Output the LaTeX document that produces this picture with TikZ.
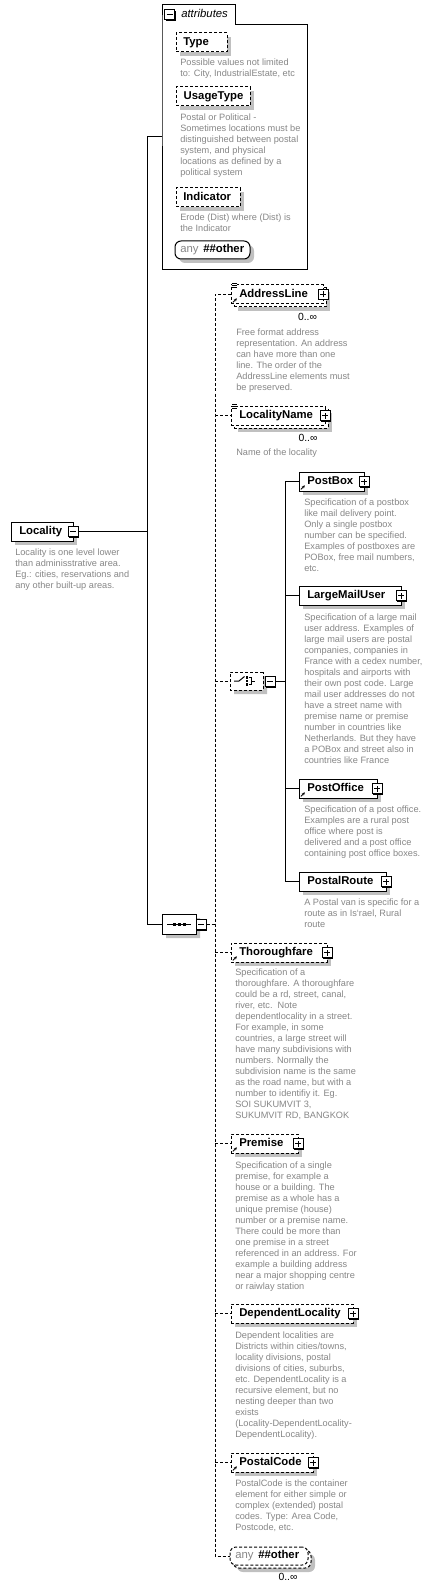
\documentclass[tikz,border=0pt]{standalone}
\usepackage{fontspec}
\newfontfamily\lib{Liberation Sans}
\usetikzlibrary{shadows,shapes.misc,arrows.meta}
\definecolor{shgray}{RGB}{192,192,192}
\definecolor{dgray}{RGB}{135,135,135}
\tikzset{
  dsh/.style={dash pattern=on 2.25pt off 1.5pt},
  elplain/.style={draw, fill=white, line width=0.75pt, minimum height=14.25pt, inner sep=0pt, outer sep=0pt},
  elbox/.style={elplain, general shadow={fill=shgray, shadow xshift=3pt, shadow yshift=-3pt}},
  eltext/.style={font=\lib\bfseries\fontsize{8.5}{10}\selectfont, inner sep=0pt, text height=6pt, text depth=1.6pt},
  graytext/.style={font=\lib\fontsize{8.5}{10}\selectfont, inner sep=0pt, text height=6pt, text depth=1.6pt, text=dgray},
  desctext/.style={font=\lib\fontsize{6.9}{8.25}\selectfont, text=dgray, align=left, inner sep=0pt, anchor=north west},
  occ/.style={font=\lib\fontsize{7.8}{9}\selectfont, inner sep=0pt},
  pbox/.style={draw, fill=white, line width=0.75pt, minimum size=7.5pt, inner sep=0pt,
    general shadow={fill=black, shadow xshift=0.75pt, shadow yshift=-0.75pt},
    path picture={\draw[line width=0.75pt] ([xshift=1.5pt]path picture bounding box.west) -- ([xshift=-1.5pt]path picture bounding box.east) ([yshift=1.5pt]path picture bounding box.south) -- ([yshift=-1.5pt]path picture bounding box.north);}},
  mbox/.style={draw, fill=white, line width=0.75pt, minimum size=7.5pt, inner sep=0pt,
    general shadow={fill=black, shadow xshift=0.75pt, shadow yshift=-0.75pt},
    path picture={\draw[line width=0.75pt] ([xshift=1.5pt]path picture bounding box.west) -- ([xshift=-1.5pt]path picture bounding box.east);}},
  compo/.style={chamfered rectangle, chamfered rectangle xsep=3.5pt, draw, fill=white, line width=0.75pt, inner sep=0pt,
    general shadow={fill=shgray, shadow xshift=3pt, shadow yshift=-3pt}},
  conn/.style={line width=0.75pt},
  dconn/.style={line width=0.75pt, dsh},
}
\newcommand\elemnode[6][elbox]{%
  \node[#1,minimum width=#5*0.75pt,anchor=north west] (#2) at (#3,#4) {};
  \node[eltext,anchor=west] (#2-t) at ([xshift=6pt]#2.west) {#6};
  \node[pbox] (#2-p) at (#2.east) {};
}
\newcommand\backnode[4]{%
  \node[elbox,dsh,minimum width=#4*0.75pt,anchor=north west] (#1-back) at (#2+3,#3+3) {};
}
\newcommand\descnode[4]{\node[desctext] (#1) at (#2,#3-4.3) {#4};}
\newcommand\refarrow[1]{\draw[line width=0.6pt,-{Stealth[length=2.2pt,width=2.2pt]}] ([shift={(1.4pt,1.2pt)}]#1.south west) -- ++(3pt,3pt);}
\newcommand\texticon[1]{%
  \fill[white] ([shift={(0.4pt,2.2pt)}]#1.north west) rectangle ([shift={(4.6pt,-2.6pt)}]#1.north west);
  \draw[line width=0.5pt] ([shift={(0.75pt,1.5pt)}]#1.north west) -- ++(3.5pt,0)
    ([shift={(0.75pt,0pt)}]#1.north west) -- ++(3.5pt,0)
    ([shift={(0.75pt,-1.5pt)}]#1.north west) -- ++(3.5pt,0);}
\begin{document}
\begin{tikzpicture}[x=0.75pt,y=-0.75pt]
\useasboundingbox (0,0) rectangle (434,1590);
\fill[white] (0,0) rectangle (434,1590);

% ---------- attributes frame ----------
\draw[line width=0.75pt] (162,25) -- (162,5) -- (235,5) -- (235,25) -- (307,25) -- (307,270) -- (162,270) -- cycle;
\node[mbox] (attrm) at (169.5,15) {};
\node[font=\lib\itshape\fontsize{8.5}{10}\selectfont, inner sep=0pt, anchor=west, text height=6pt, text depth=1.6pt] (attrt) at (181,15) {attributes};
\coordinate (attrin) at (162,137);

\node[elbox,dsh,minimum width=51*0.75pt,anchor=north west] (type) at (176,33) {};
\node[eltext,anchor=west] (type-t) at ([xshift=5.25pt]type.west) {Type};
\descnode{type-d}{180}{63}{Possible values not limited\\to: City, IndustrialEstate, etc}

\node[elbox,dsh,minimum width=74*0.75pt,anchor=north west] (usage) at (176,87) {};
\node[eltext,anchor=west] (usage-t) at ([xshift=5.6pt]usage.west) {UsageType};
\descnode{usage-d}{180}{118}{Postal or Political -\\Sometimes locations must be\\distinguished between postal\\system, and physical\\locations as defined by a\\political system}

\node[elbox,dsh,minimum width=64*0.75pt,anchor=north west] (indic) at (176,188) {};
\node[eltext,anchor=west] (indic-t) at ([xshift=5.25pt]indic.west) {Indicator};
\descnode{indic-d}{180}{218}{Erode (Dist) where (Dist) is\\the Indicator}

\node[elbox, rounded corners=4.5pt, minimum width=75*0.75pt, minimum height=13.5pt, anchor=north west] (attrany) at (175,241) {};
\node[graytext,anchor=west] (attrany-a) at ([xshift=3.75pt]attrany.west) {any};
\node[eltext,anchor=west] (attrany-b) at ([xshift=21pt]attrany.west) {\#\#other};

% ---------- Locality ----------
\elemnode{locality}{11}{522}{62}{Locality}
\node[mbox] (locm) at (locality.east) {};
\path (locality-p) node[mbox] {};
\descnode{loc-d}{15}{553}{Locality is one level lower\\than adminisstrative area.\\Eg.: cities, reservations and\\any other built-up areas.}

% ---------- sequence ----------
\node[compo, minimum width=25.5pt, minimum height=15pt] (seq) at (179,924) {};
\draw[line width=0.75pt] (167,924) -- (191,924);
\foreach \xx in {174,179,184} \fill (\xx-1.5,922.5) rectangle (\xx+1.5,925.5);
\node[mbox] (seqm) at (201,924.5) {};

% ---------- choice ----------
\node[compo, dsh, minimum width=24.75pt, minimum height=13.5pt] (choice) at (246.5,681) {};
\draw[line width=0.75pt] (234,681) -- (239,681) -- (244.5,676.5);
\foreach \yy in {677.5,681,684.5} \fill (245.5,\yy-1.1) rectangle (248,\yy+1.1);
\draw[line width=0.75pt] (248.5,677.5) -- (251,677.5) -- (251,684.5) -- (248.5,684.5) (251,681) -- (255,681);
\node[mbox] (choicem) at (270,681.5) {};

% ---------- children of sequence ----------
\backnode{addr}{231}{285}{92}
\elemnode[elplain,dsh]{addr}{231}{285}{92}{AddressLine}
\texticon{addr}
\refarrow{addr}
\node[occ] (addr-o) at (307.5,317) {0..∞};
\descnode{addr-d}{236}{333}{Free format address\\representation. An address\\can have more than one\\line. The order of the\\AddressLine elements must\\be preserved.}

\backnode{locname}{231}{406}{94}
\elemnode[elplain,dsh]{locname}{231}{406}{94}{LocalityName}
\texticon{locname}
\node[occ] (locname-o) at (308,438) {0..∞};
\descnode{locname-d}{236}{453}{Name of the locality}

\elemnode{postbox}{299}{472}{65}{PostBox}
\refarrow{postbox}
\descnode{postbox-d}{304}{503}{Specification of a postbox\\like mail delivery point.\\Only a single postbox\\number can be specified.\\Examples of postboxes are\\POBox, free mail numbers,\\etc.}

\elemnode{lmu}{299}{586}{102}{LargeMailUser}
\descnode{lmu-d}{304}{618}{Specification of a large mail\\user address. Examples of\\large mail users are postal\\companies, companies in\\France with a cedex number,\\hospitals and airports with\\their own post code. Large\\mail user addresses do not\\have a street name with\\premise name or premise\\number in countries like\\Netherlands. But they have\\a POBox and street also in\\countries like France}

\elemnode{postoff}{299}{779}{78}{PostOffice}
\refarrow{postoff}
\descnode{postoff-d}{304}{810}{Specification of a post office.\\Examples are a rural post\\office where post is\\delivered and a post office\\containing post office boxes.}

\elemnode{proute}{299}{872}{87}{PostalRoute}
\descnode{proute-d}{304}{903}{A Postal van is specific for a\\route as in Is‘rael, Rural\\route}

\elemnode[elbox,dsh]{thor}{231}{943}{96}{Thoroughfare}
\refarrow{thor}
\descnode{thor-d}{235}{973}{Specification of a\\thoroughfare. A thoroughfare\\could be a rd, street, canal,\\river, etc.\ \ Note\\dependentlocality in a street.\\For example, in some\\countries, a large street will\\have many subdivisions with\\numbers. Normally the\\subdivision name is the same\\as the road name, but with a\\number to identifiy it. Eg.\\SOI SUKUMVIT 3,\\SUKUMVIT RD, BANGKOK}

\elemnode[elbox,dsh]{prem}{231}{1134}{67}{Premise}
\refarrow{prem}
\descnode{prem-d}{235}{1166}{Specification of a single\\premise, for example a\\house or a building. The\\premise as a whole has a\\unique premise (house)\\number or a premise name.\\There could be more than\\one premise in a street\\referenced in an address. For\\example a building address\\near a major shopping centre\\or raiwlay station}

\elemnode[elbox,dsh]{deploc}{231}{1304}{122}{DependentLocality}
\descnode{deploc-d}{235}{1336}{Dependent localities are\\Districts within cities/towns,\\locality divisions, postal\\divisions of cities, suburbs,\\etc. DependentLocality is a\\recursive element, but no\\nesting deeper than two\\exists\\(Locality-DependentLocality-\\DependentLocality).}

\elemnode[elbox,dsh]{pcode}{231}{1453}{82}{PostalCode}
\refarrow{pcode}
\descnode{pcode-d}{235}{1484}{PostalCode is the container\\element for either simple or\\complex (extended) postal\\codes. Type: Area Code,\\Postcode, etc.}

\node[elbox, dsh, rounded corners=4.5pt, minimum width=78*0.75pt, minimum height=13.5pt, anchor=north west] (anyb-back) at (233,1550) {};
\node[elplain, dsh, rounded corners=4.5pt, minimum width=78*0.75pt, minimum height=13.5pt, anchor=north west] (anyb) at (230,1547) {};
\node[graytext,anchor=west] (anyb-a) at ([xshift=3.75pt]anyb.west) {any};
\node[eltext,anchor=west] (anyb-b) at ([xshift=21pt]anyb.west) {\#\#other};
\node[occ] (anyb-o) at (288,1577) {0..∞};

% ---------- connectors ----------
\coordinate (b1) at (147,137);
\coordinate (b2) at (215,294.5);
\coordinate (b3) at (285,481.5);
\draw[conn] (attrin) -- (b1) |- (seq.west);
\draw[conn] (locm.east) -- (locm.east -| b1);
\draw[dconn] (seqm.east) -- (seqm.east -| b2);
\draw[dconn] (addr.west) -- (addr.west -| b2) -- (anyb.west -| b2) -- (anyb.west);
\foreach \n in {locname,choice,thor,prem,deploc,pcode}
  \draw[dconn] (\n.west -| b2) -- (\n.west);
\draw[conn] (choicem.east) -- (choicem.east -| b3);
\draw[conn] (postbox.west) -- (postbox.west -| b3) -- (proute.west -| b3) -- (proute.west);
\foreach \n in {lmu,postoff}
  \draw[conn] (\n.west -| b3) -- (\n.west);
\end{tikzpicture}
\end{document}
